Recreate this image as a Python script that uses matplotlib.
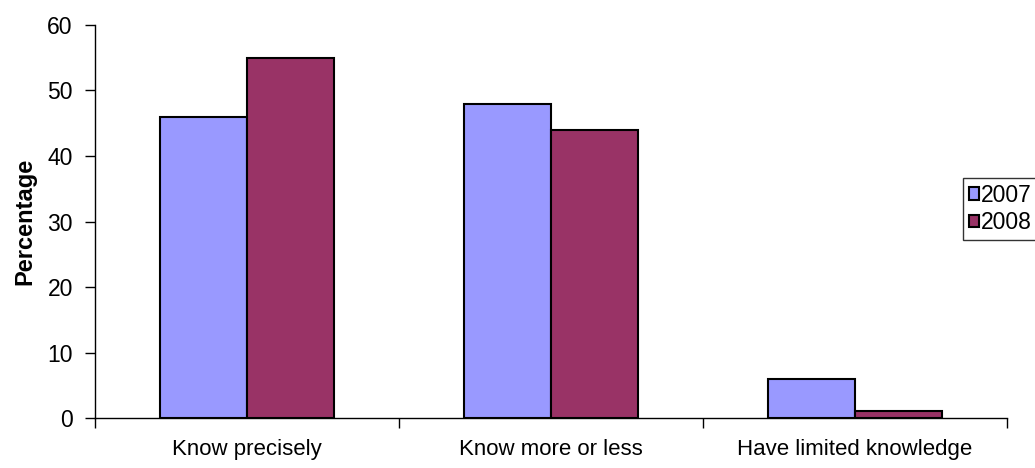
import numpy as np
import matplotlib
matplotlib.use("Agg")
import matplotlib.pyplot as plt

# Data
categories = ["Know precisely", "Know more or less", "Have limited knowledge"]
years = ["2007", "2008"]
values_2007 = [46, 48, 6]
values_2008 = [55, 44, 1]
y_ticks = [0, 10, 20, 30, 40, 50, 60]

colors = ["#9999FF", "#993366"]

plt.rcParams['font.family'] = ['Liberation Sans', 'DejaVu Sans']

fig = plt.figure(figsize=(10.35, 4.68), dpi=100)
ax = fig.add_axes([0.0918, 0.1068, 0.8812, 0.8398])

x = np.arange(len(categories))
width = 0.285
ax.bar(x - width / 2, values_2007, width, color=colors[0], edgecolor='black', linewidth=1.5, label=years[0])
ax.bar(x + width / 2, values_2008, width, color=colors[1], edgecolor='black', linewidth=1.5, label=years[1])

ax.set_xlim(-0.5, len(categories) - 0.5)
ax.set_ylim(0, 60)
ax.set_yticks(y_ticks)
ax.tick_params(axis='y', labelsize=16.5, length=7, width=1, direction='out', pad=9)

# category boundaries as ticks, labels centred between them
ax.set_xticks(np.arange(-0.5, len(categories), 1.0))
ax.set_xticklabels([])
ax.set_xticks(x, minor=True)
ax.set_xticklabels(categories, minor=True, fontsize=16)
ax.tick_params(axis='x', which='major', length=7, width=1, direction='out')
ax.tick_params(axis='x', which='minor', length=0, pad=15)

ax.set_ylabel("Percentage", fontsize=17, fontweight='bold', labelpad=8)

for side in ['top', 'right']:
    ax.spines[side].set_visible(False)
for side in ['left', 'bottom']:
    ax.spines[side].set_linewidth(1)

leg = ax.legend(loc='upper left', bbox_to_anchor=(963 / 1035, 1 - 178 / 468),
                bbox_transform=fig.transFigure, fontsize=16.5, frameon=True, fancybox=False,
                handlelength=0.45, handleheight=0.45, handletextpad=0.1,
                borderpad=0.25, labelspacing=0.2, borderaxespad=0)
leg.get_frame().set_edgecolor('black')
leg.get_frame().set_linewidth(1)

fig.savefig("out.png", dpi=100)
